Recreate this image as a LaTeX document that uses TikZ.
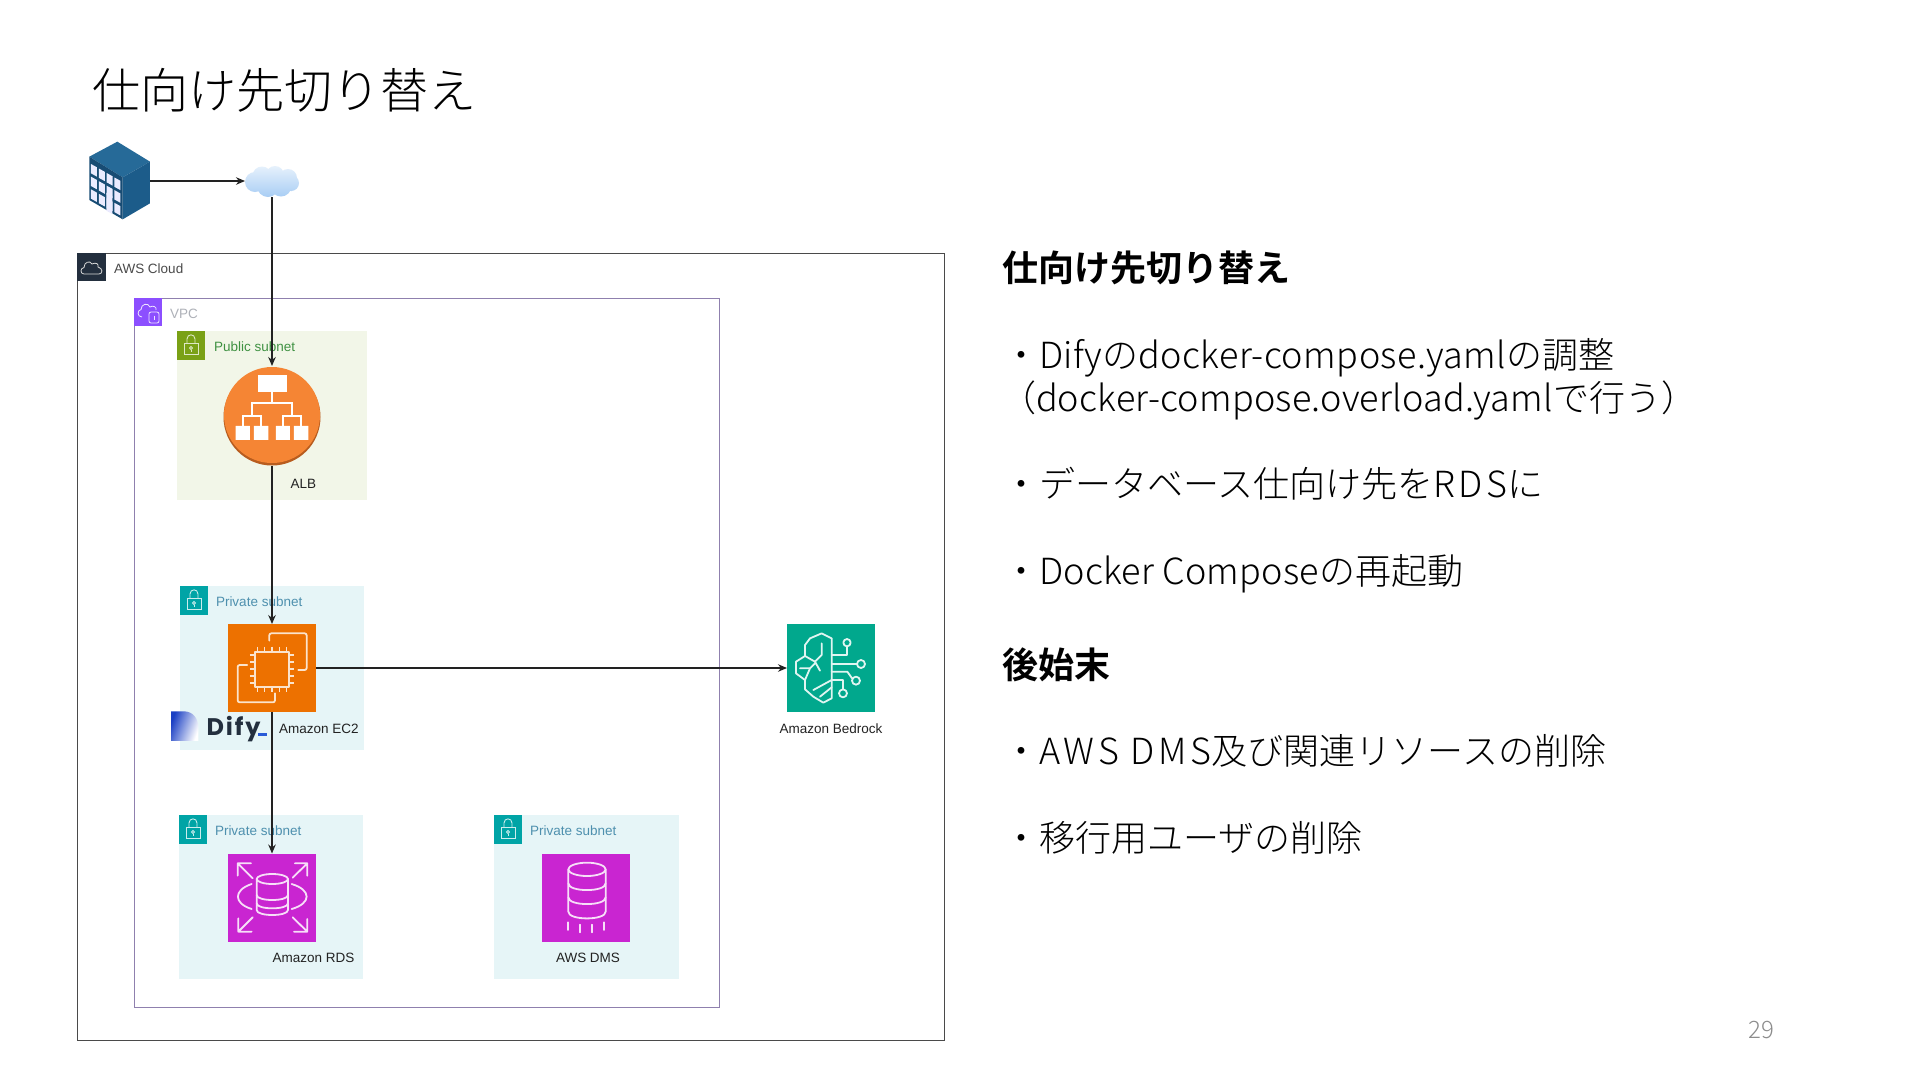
\documentclass[tikz,border=0pt]{standalone}
\usepackage{fontspec}
\usetikzlibrary{arrows.meta}
\setmainfont{Liberation Sans}
\newfontfamily\jp[BoldFont={Noto Sans CJK JP Bold}]{Noto Sans CJK JP Light}
\newfontfamily\difyfont{Poppins}
\newcommand{\lsp}[2]{{\addfontfeature{LetterSpace=#1}#2}}
\definecolor{subpub}{HTML}{F2F6E8}
\definecolor{subpriv}{HTML}{E6F5F7}
\definecolor{tagteal}{HTML}{00A4A6}
\definecolor{taggreen}{HTML}{7AA116}
\definecolor{tagpurple}{HTML}{8C4FFF}
\definecolor{tagdark}{HTML}{232F3E}
\definecolor{txtpub}{HTML}{3F9142}
\definecolor{txtpriv}{HTML}{4E90AE}
\definecolor{txtvpc}{HTML}{AEB1B8}
\definecolor{awsline}{HTML}{4A4A4A}
\definecolor{vpcline}{HTML}{8F80AE}
\definecolor{ec2col}{HTML}{ED7100}
\definecolor{rdscol}{HTML}{C925D1}
\definecolor{bedcol}{HTML}{01A88D}
\definecolor{albcol}{HTML}{F58534}
\definecolor{albdark}{HTML}{B85C1E}
\definecolor{bldtop}{HTML}{266A98}
\definecolor{bldside}{HTML}{1C5C8A}
\definecolor{bldfront}{HTML}{184C74}
\definecolor{dark}{HTML}{222222}
\definecolor{cloudtop}{HTML}{E8F2FC}
\definecolor{cloudbot}{HTML}{A6CCF4}
\definecolor{dfblue}{HTML}{1A3FC4}
\definecolor{dfline}{HTML}{2A5BD7}
\newcommand{\locktag}[4]{%
 \begin{scope}[shift={(#1,#2)}]
  \fill[#3] (0,0) rectangle (28,28.5);
  \draw[#4,line width=.9pt] (7,12.5) rectangle (21,23.5);
  \draw[#4,line width=.9pt] (10,12.5) -- (10,8) .. controls (10,2.5) and (18,2.5) .. (18,8) -- (18,12.5);
  \draw[#4,line width=.8pt] (14,17) circle[radius=1.5];
  \draw[#4,line width=.8pt] (14,18.5) -- (14,21);
 \end{scope}}
\newcommand{\cloudoutline}{(7,21) .. controls (3,21) and (3,15) .. (7,14.5) .. controls (7,9) and (13,7) .. (15,11) .. controls (19,9) and (22,11) .. (21,14) .. controls (26,15) and (26,21) .. (22,21) -- cycle}
\tikzset{
 txtlabel/.style={anchor=base west,inner sep=0,outer sep=0,font=\fontsize{13.5}{15}\selectfont,text=dark},
 sublabel/.style={txtlabel},
 iconbox/.style={rectangle,inner sep=0,outer sep=0,minimum width=88pt,minimum height=88pt},
 iconline/.style={line width=1.8pt,line cap=round,line join=round},
 conn/.style={draw=dark,line width=1.1pt,-{Stealth[length=9pt,width=7.5pt]}},
 jptext/.style={anchor=base west,inner sep=0,outer sep=0,font=\jp\fontsize{36}{36}\selectfont,text=black},
 jphead/.style={anchor=base west,inner sep=0,outer sep=0,font=\jp\bfseries\fontsize{36}{36}\selectfont,text=black},
}
\begin{document}
\begin{tikzpicture}[x=1pt,y=-1pt]
\useasboundingbox (0,0) rectangle (1920,1080);
\fill[white] (0,0) rectangle (1920,1080);

% title
\node[anchor=base west,inner sep=0,font=\jp\fontsize{48}{48}\selectfont] (title) at (92,108) {仕向け先切り替え};

% containers
\draw[awsline,line width=.9pt] (77.5,253) rectangle (944,1040);
\fill[tagdark] (77,253) rectangle (106,281);
\begin{scope}[shift={(77,253)}]
 \draw[white!85!black,line width=.8pt] \cloudoutline;
\end{scope}
\node[sublabel,text=awsline] (awslabel) at (114,273) {AWS Cloud};

\draw[vpcline,line width=.9pt] (134,298) rectangle (719,1007);
\fill[tagpurple] (134,298) rectangle (162,326);
\begin{scope}[shift={(134,298)}]
 \draw[white!85!tagpurple,line width=.8pt] (8,19) .. controls (3,19) and (3,12) .. (7,11.5) .. controls (7,6) and (14,4) .. (16,9) .. controls (19,7) and (23,9) .. (22,12);
 \draw[white!85!tagpurple,line width=.8pt,fill=tagpurple,rounded corners=2pt] (15,14) rectangle (25,25);
 \draw[white!85!tagpurple,line width=.7pt] (20,17.5) -- (20,22);
\end{scope}
\node[sublabel,text=txtvpc] (vpclabel) at (170,318) {VPC};

% subnets
\fill[subpub] (177,331) rectangle (367,500);
\locktag{177}{331}{taggreen}{white!75!taggreen}
\node[sublabel,text=txtpub] (publabel) at (214,351) {Public subnet};

\fill[subpriv] (180,586) rectangle (364,750);
\locktag{180}{586}{tagteal}{white!80!tagteal}
\node[sublabel,text=txtpriv] (priv1) at (216,606) {Private subnet};

\fill[subpriv] (179,815) rectangle (363,979);
\locktag{179}{815}{tagteal}{white!80!tagteal}
\node[sublabel,text=txtpriv] (priv2) at (215,835.5) {Private subnet};

\fill[subpriv] (494,815) rectangle (679,979);
\locktag{494}{815}{tagteal}{white!80!tagteal}
\node[sublabel,text=txtpriv] (priv3) at (530,835.5) {Private subnet};

% building
\node[rectangle,inner sep=0,outer sep=0,minimum width=61pt,minimum height=77pt] (building) at (119.5,181) {};
\begin{scope}[shift={(60,120)},x=.3333pt,y=-.3333pt]
 \fill[bldtop] (88,110) -- (172,65) -- (270,125) -- (188,172) -- cycle;
 \fill[bldside] (188,172) -- (270,125) -- (270,250) -- (188,298) -- cycle;
 \fill[bldfront] (88,110) -- (188,172) -- (188,298) -- (88,240) -- cycle;
 \foreach \i in {0,1,2,3}{
  \foreach \j in {0,1,2}{
   \pgfmathsetmacro{\xa}{93+23.5*\i}
   \pgfmathsetmacro{\xb}{\xa+18}
   \pgfmathsetmacro{\ya}{132+13.5*\i+38*\j}
   \pgfmathsetmacro{\yb}{\ya+10}
   \fill[white!92!blue] (\xa,\ya) -- (\xb,\yb) -- (\xb,\yb+28) -- (\xa,\ya+28) -- cycle;
  }}
 \fill[white!92!blue] (139,218) -- (157,228) -- (157,282) -- (139,272) -- cycle;
\end{scope}

% cloud
\node[rectangle,inner sep=0,outer sep=0,minimum width=54pt,minimum height=32pt] (cloud) at (272,181) {};
\begin{scope}
 \clip (255,182) circle[radius=10] (262,176) circle[radius=9.5] (275,175) circle[radius=9] (288,178) circle[radius=9] (291,183) circle[radius=8] (268,186) circle[radius=11] (281,186) circle[radius=10.5];
 \shade[top color=cloudtop,bottom color=cloudbot] (240,165) rectangle (304,198);
\end{scope}

% ALB
\node[circle,inner sep=0,outer sep=0,minimum size=100pt] (alb) at (272,416) {};
\fill[albdark] (272,417) circle[radius=48.5];
\fill[albcol] (272,415) circle[radius=48];
\begin{scope}[shift={(60,120)},x=.3333pt,y=-.3333pt]
 \fill[white] (595,765) rectangle (680,815);
 \draw[white,line width=2pt] (637,815) -- (637,850) (577,887) -- (577,850) -- (697,850) -- (697,887)
   (548,918) -- (548,887) -- (603,887) -- (603,918) (668,918) -- (668,887) -- (723,887) -- (723,918);
 \fill[white] (527,918) rectangle (570,960) (582,918) rectangle (625,960) (648,918) rectangle (690,960) (702,918) rectangle (745,960);
\end{scope}
\node[txtlabel] (alblabel) at (290.5,488) {ALB};

% EC2
\node[iconbox,fill=ec2col] (ec2) at (272,668) {};
\begin{scope}[shift={(160,570)},x=.3333pt,y=-.3333pt]
 \draw[iconline,white!80!ec2col,rounded corners=2pt] (328,212) -- (328,190) -- (440,190) -- (440,300) -- (415,300);
 \draw[iconline,white!80!ec2col,rounded corners=2pt] (262,285) -- (233,285) -- (233,397) -- (345,397) -- (345,370);
 \draw[iconline,white!80!ec2col] (285,245) rectangle (388,350);
 \foreach \p in {0,1,2,3,4}{
  \pgfmathsetmacro{\q}{293+\p*21.5}
  \pgfmathsetmacro{\r}{255+\p*21}
  \draw[line width=1.3pt,white!80!ec2col] (\q,230) -- (\q,245) (\q,350) -- (\q,365) (270,\r) -- (285,\r) (388,\r) -- (403,\r);
 }
\end{scope}
\node[txtlabel] (ec2label) at (279,733) {Amazon EC2};

% Dify
\begin{scope}[shift={(160,570)},x=.3333pt,y=-.3333pt]
 \shade[left color=dfblue,right color=white,shading angle=70] (33,424) -- (72,424) .. controls (98,424) and (115,445) .. (115,472) -- (115,513) -- (33,513) -- cycle;
 \fill[dfline] (295,490) rectangle (322,498);
\end{scope}
\node[anchor=base west,inner sep=0,outer sep=0,font=\difyfont\bfseries\fontsize{24}{26}\selectfont,text=tagdark] (dify) at (206.5,735) {\lsp{8}{Dify}};

% RDS
\node[iconbox,fill=rdscol] (rds) at (272,897.5) {};
\begin{scope}[shift={(170,810)},x=.3333pt,y=-.3333pt,white!85!rdscol]
 \draw[iconline] (307,207) ellipse[x radius=47,y radius=15];
 \draw[iconline] (260,207) -- (260,300) .. controls (260,320) and (354,320) .. (354,300) -- (354,207);
 \draw[iconline] (260,255) .. controls (260,275) and (354,275) .. (354,255);
 \draw[iconline] (260,280) .. controls (260,300) and (354,300) .. (354,280);
 \draw[iconline] (245,222) .. controls (190,240) and (190,280) .. (245,297);
 \draw[iconline] (365,222) .. controls (425,240) and (425,280) .. (365,297);
 \draw[iconline] (248,205) -- (203,160) (203,197) -- (203,160) -- (243,160);
 \draw[iconline] (368,203) -- (412,160) (375,160) -- (412,160) -- (412,197);
 \draw[iconline] (248,322) -- (205,365) (205,325) -- (205,365) -- (245,365);
 \draw[iconline] (368,322) -- (412,365) (372,365) -- (412,365) -- (412,327);
\end{scope}
\node[txtlabel] (rdslabel) at (272.5,962) {Amazon RDS};

% DMS
\node[iconbox,fill=rdscol] (dms) at (586,897.5) {};
\begin{scope}[shift={(480,810)},x=.3333pt,y=-.3333pt,white!85!rdscol]
 \draw[iconline] (321,178) ellipse[x radius=56,y radius=20];
 \draw[iconline] (265,178) -- (265,305) .. controls (265,332) and (377,332) .. (377,305) -- (377,178);
 \draw[iconline] (265,220) .. controls (265,247) and (377,247) .. (377,220);
 \draw[iconline] (265,262) .. controls (265,289) and (377,289) .. (377,262);
 \draw[iconline] (265,337) -- (265,360) (301,344) -- (301,367) (337,344) -- (337,367) (373,337) -- (373,360);
\end{scope}
\node[txtlabel] (dmslabel) at (556,962) {AWS DMS};

% Bedrock
\node[iconbox,fill=bedcol] (bedrock) at (831,668) {};
\begin{scope}[shift={(760,600)},x=.3333pt,y=-.3333pt,white!88!bedcol]
 \draw[iconline] (215,115) -- (185,100) -- (150,115) -- (135,135) -- (135,168) -- (108,185) -- (108,220) -- (135,240) -- (135,268) -- (160,290) -- (190,308) -- (215,295) -- cycle;
 \draw[iconline] (185,130) -- (185,165) -- (165,185) -- (135,168);
 \draw[iconline] (165,185) -- (180,212) (165,190) -- (150,205) -- (120,205);
 \draw[iconline] (150,205) -- (135,240);
 \draw[iconline] (215,240) -- (160,270) (215,262) -- (180,290);
 \draw[iconline] (215,165) -- (260,165) -- (260,140);
 \draw[iconline] (261,128) circle[radius=11];
 \draw[iconline] (215,192) -- (291,192);
 \draw[iconline] (303,192) circle[radius=12];
 \draw[iconline] (215,215) -- (262,215) -- (277,236);
 \draw[iconline] (288,242) circle[radius=12];
 \draw[iconline] (215,240) -- (248,240) -- (248,268);
 \draw[iconline] (249,280) circle[radius=12];
\end{scope}
\node[txtlabel] (bedlabel) at (779.5,733) {Amazon Bedrock};

% connectors
\draw[conn] (building.east) -- (cloud.west);
\draw[conn] (cloud.south) -- (alb.north);
\draw[conn] (alb.south) -- (ec2.north);
\draw[conn] (ec2.south) -- (rds.north);
\draw[conn] (ec2.east) -- (bedrock.west);

% right text
\node[jphead] (h1) at (1002,281.5) {仕向け先切り替え};
\node[jptext] (b1) at (1003,368) {・\lsp{1.3}{Dify}の\lsp{1.3}{docker-compose.yaml}の調整};
\node[jptext] (b2) at (1000,411) {（\lsp{.6}{docker-compose.overload.yaml}で行う）};
\node[jptext] (b3) at (1003,497) {・データベース仕向け先を\lsp{10}{RDS}に};
\node[jptext] (b4) at (1003,584) {・\lsp{.7}{Docker Compose}の再起動};
\node[jphead] (h2) at (1002,678) {後始末};
\node[jptext] (b5) at (1003,764) {・\lsp{10.5}{AWS DMS}及び関連リソースの削除};
\node[jptext] (b6) at (1003,851) {・移行用ユーザの削除};
\node[anchor=base west,inner sep=0,font=\jp\fontsize{24}{24}\selectfont,text=black!45] (page) at (1748,1038) {29};
\end{tikzpicture}
\end{document}
